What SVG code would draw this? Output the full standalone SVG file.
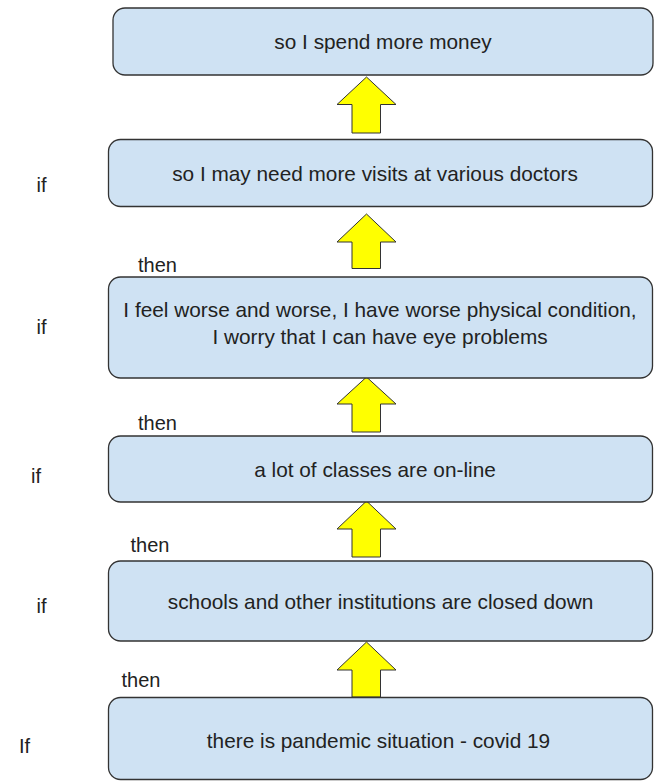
<svg xmlns="http://www.w3.org/2000/svg" width="654" height="782" viewBox="0 0 654 782">
<style>
.box{fill:#cfe2f3;stroke:#333;stroke-width:1.3}
.t{font-family:"Liberation Sans",Arial,sans-serif;font-size:20.8px;fill:#222;text-anchor:middle}
.l{font-family:"Liberation Sans",Arial,sans-serif;font-size:20px;fill:#222}
.arr{fill:#ffff00;stroke:#333;stroke-width:1}
</style>
<rect width="654" height="782" fill="#fff"/>
<g id="connectors">
<polygon class="arr" points="366.5,77 396,104.5 380.5,104.5 380.5,133 352,133 352,104.5 337,104.5"/>
<polygon class="arr" points="366.5,214 396,242 380.5,242 380.5,268.5 352,268.5 352,242 337,242"/>
<polygon class="arr" points="366.5,377 396,404 380.5,404 380.5,432 352,432 352,404 337,404"/>
<polygon class="arr" points="366.5,501 396,529 380.5,529 380.5,557 352,557 352,529 337,529"/>
<polygon class="arr" points="366.5,642 396,670 380.5,670 380.5,697 352,697 352,670 337,670"/>
</g>
<g id="n1"><rect class="box" x="113" y="8" width="540" height="67" rx="12"/><text class="t" x="383" y="48.5">so I spend more money</text></g>
<g id="n2"><rect class="box" x="108.5" y="139.5" width="544" height="67" rx="12"/><text class="t" x="375" y="180.5">so I may need more visits at various doctors</text></g>
<g id="n3"><rect class="box" x="108.5" y="277" width="544" height="101" rx="12"/><text class="t" x="380" y="316.5">I feel worse and worse, I have worse physical condition,</text><text class="t" x="380" y="343.5">I worry that I can have eye problems</text></g>
<g id="n4"><rect class="box" x="108.5" y="436" width="544" height="66" rx="12"/><text class="t" x="375" y="476.5">a lot of classes are on-line</text></g>
<g id="n5"><rect class="box" x="108.5" y="561" width="544" height="80" rx="12"/><text class="t" x="380.5" y="608.5">schools and other institutions are closed down</text></g>
<g id="n6"><rect class="box" x="108.5" y="697.5" width="544" height="82" rx="12"/><text class="t" x="378.5" y="747.5">there is pandemic situation - covid 19</text></g>
<g id="labels">
<text class="l" x="36.5" y="192">if</text>
<text class="l" x="36.5" y="334">if</text>
<text class="l" x="31" y="483">if</text>
<text class="l" x="36.5" y="613">if</text>
<text class="l" x="19" y="753">If</text>
<text class="l" x="138" y="272">then</text>
<text class="l" x="138" y="430">then</text>
<text class="l" x="130.5" y="552">then</text>
<text class="l" x="121.5" y="687">then</text>
</g>
</svg>
